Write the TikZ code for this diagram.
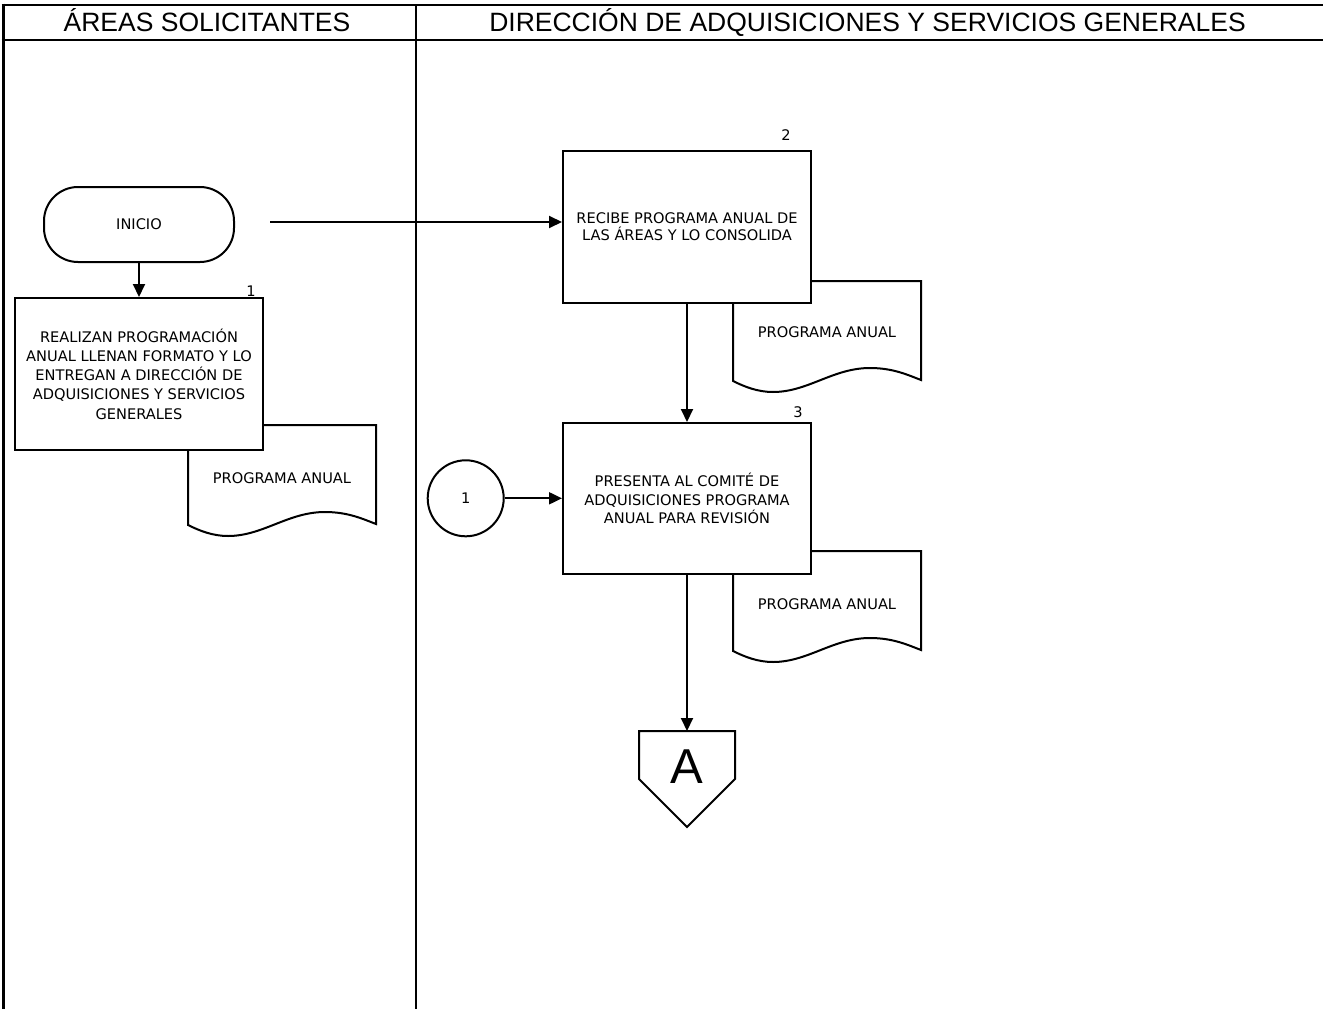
\documentclass[tikz,border=0pt]{standalone}
\usepackage{fontspec}
\setmainfont{Liberation Sans}
\newfontfamily\bodyfont{DejaVu Sans}
\usetikzlibrary{arrows.meta,shapes.geometric}

\begin{document}
\begin{tikzpicture}[x=1pt,y=-1pt,
  line width=2pt,
  flow/.style={-{Triangle[length=13pt,width=12pt]}},
  bodytext/.style={font=\bodyfont\fontsize{14.6}{18}\selectfont},
  procbox/.style={bodytext,draw,fill=white,minimum width=248pt,minimum height=152pt,
    inner sep=0pt,align=center},
  terminal/.style={bodytext,draw,fill=white,rounded corners=34pt,
    minimum width=190pt,minimum height=75pt,inner sep=0pt},
  connector/.style={bodytext,draw,fill=white,circle,minimum size=76pt,inner sep=0pt},
  stepnum/.style={bodytext,inner sep=0pt},
  doctext/.style={bodytext,inner sep=0pt},
  lanehead/.style={font=\fontsize{26.5}{30}\selectfont,inner sep=0pt,anchor=base},
  docpic/.pic={
    \draw[fill=white] (0,0) -- (188,0) -- (188,99)
      .. controls (175,94) and (160,87) .. (137,87)
      .. controls (100,87) and (75,111) .. (40,111)
      .. controls (25,111) and (12,106) .. (0,100) -- cycle;
  }
]
\useasboundingbox (0,0) rectangle (1323,1009);

% swimlane frame
\draw[line width=2pt] (1.7,5) -- (1323,5);
\draw[line width=2.6pt] (1.7,40) -- (1323,40);
\draw[line width=3.6pt] (3.5,3.5) -- (3.5,1009);
\draw[line width=2.3pt] (416,5) -- (416,1009);
\node[lanehead] (laneA) at (207,31.5) {ÁREAS SOLICITANTES};
\node[lanehead] (laneB) at (867.5,31.5) {DIRECCIÓN DE ADQUISICIONES Y SERVICIOS GENERALES};

% documents (drawn below the process boxes)
\pic at (188,425) {docpic};
\pic at (733,281) {docpic};
\pic at (733,551) {docpic};
\node[doctext] (doc1) at (282,478) {PROGRAMA ANUAL};
\node[doctext] (doc2) at (827,332) {PROGRAMA ANUAL};
\node[doctext] (doc3) at (827,604) {PROGRAMA ANUAL};

% start
\node[terminal] (inicio) at (139,224.5) {INICIO};

% process steps
\node[procbox,font=\bodyfont\fontsize{14.6}{19.3}\selectfont] (step1) at (139,374)
  {REALIZAN PROGRAMACIÓN\\ANUAL LLENAN FORMATO Y LO\\ENTREGAN A DIRECCIÓN DE\\ADQUISICIONES Y SERVICIOS\\GENERALES};
\node[procbox,font=\bodyfont\fontsize{14.6}{16.7}\selectfont] (step2) at (687,227)
  {RECIBE PROGRAMA ANUAL DE\\LAS ÁREAS Y LO CONSOLIDA};
\node[procbox,minimum height=151pt,font=\bodyfont\fontsize{14.6}{18.3}\selectfont] (step3) at (687,498.5)
  {PRESENTA AL COMITÉ DE\\ADQUISICIONES PROGRAMA\\ANUAL PARA REVISIÓN};

\node[stepnum] (n1) at (251,291) {1};
\node[stepnum] (n2) at (786,135) {2};
\node[stepnum] (n3) at (798,412) {3};

% on-page connector
\node[connector] (con1) at (465.7,498.3) {1};

% off-page connector
\draw (639,731) -- (735,731) -- (735,779) -- (687,827) -- (639,779) -- cycle;
\coordinate (offtop) at (687,731);
\node[font=\fontsize{49}{55}\selectfont,inner sep=0pt] (offA) at (687,767) {A};

% flow lines
\coordinate (feed) at (270,222);
\draw[flow] (inicio.south) -- (step1.north);
\draw[flow] (feed) -- (feed -| step2.west);
\draw[flow] (step2.south) -- (step3.north);
\draw[flow] (con1.east) -- (step3.west |- con1.east);
\draw[flow] (step3.south) -- (offtop);
\end{tikzpicture}
\end{document}
